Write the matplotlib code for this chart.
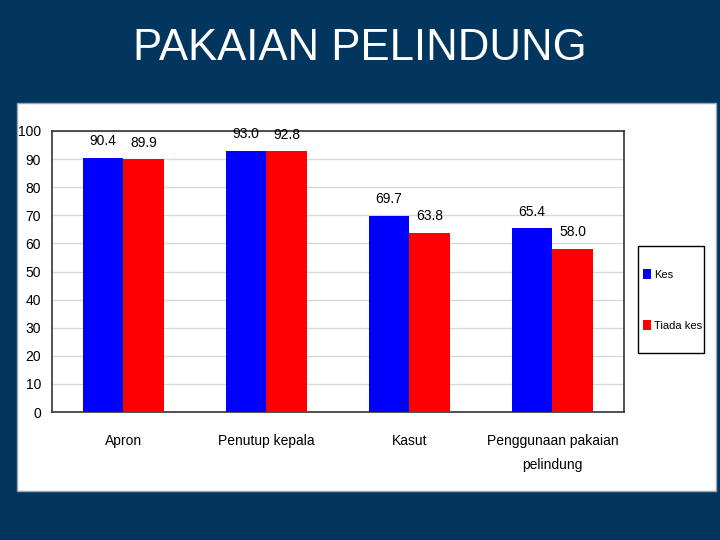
import matplotlib
matplotlib.use("Agg")
import matplotlib.pyplot as plt
from matplotlib.patches import Rectangle
import numpy as np

categories = ["Apron", "Penutup kepala", "Kasut", "Penggunaan pakaian\npelindung"]
kes = [90.4, 93.0, 69.7, 65.4]
tiada_kes = [89.9, 92.8, 63.8, 58.0]
series_names = ["Kes", "Tiada kes"]
yticks = list(range(0, 101, 10))

plt.rcParams['font.family'] = ['Liberation Sans', 'DejaVu Sans']

bg = '#02365F'
fig = plt.figure(figsize=(7.2, 5.4), dpi=100, facecolor=bg)

# white panel
fig.patches.append(Rectangle((17/720, 1-491/540), 699/720, 388/540, transform=fig.transFigure,
                             facecolor='white', edgecolor='#9aa6b2', linewidth=1.0, zorder=-10))

fig.text(0.5, 1-48/540, "PAKAIAN PELINDUNG", color='white', fontsize=31.5,
         family='Liberation Sans', ha='center', va='center')

ax = fig.add_axes([52/720, 1-412/540, 572/720, 281/540])
ax.set_facecolor('white')
x = np.arange(len(categories))
w = 0.285
b1 = ax.bar(x - w/2, kes, w, color='#0000FF', label=series_names[0], zorder=3)
b2 = ax.bar(x + w/2, tiada_kes, w, color='#FF0000', label=series_names[1], zorder=3)
for bars in (b1, b2):
    for r in bars:
        ax.annotate(f"{r.get_height():.1f}", (r.get_x() + r.get_width()/2, r.get_height()),
                    xytext=(0, 7), textcoords='offset points', ha='center', va='bottom',
                    fontsize=10, color='black')

ax.set_xlim(-0.5, len(categories) - 0.5)
ax.set_ylim(0, 100)
ax.set_yticks(yticks)
ax.set_xticks(x)
ax.set_xticklabels(categories, fontsize=10, linespacing=1.9)
ax.tick_params(axis='y', length=0, labelsize=10, pad=8)
ax.tick_params(axis='x', length=0, pad=16)
ax.grid(axis='y', color='#d9d9d9', linewidth=1, zorder=0)
for s in ax.spines.values():
    s.set_color('#333333')
    s.set_linewidth(1.2)

# legend box
fig.patches.append(Rectangle((638/720, 1-353/540), 66/720, 107/540, transform=fig.transFigure,
                             facecolor='white', edgecolor='black', linewidth=1.0, zorder=2))
leg = fig.legend(handles=[b1, b2], labels=series_names, loc='center left',
                 bbox_to_anchor=(640/720, 1-300/540), bbox_transform=fig.transFigure,
                 fontsize=8, frameon=False,
                 labelspacing=3.6, handlelength=0.7, handleheight=1.0, handletextpad=0.25,
                 borderpad=0.3, borderaxespad=0)
leg.set_zorder(5)

fig.savefig("out.png", dpi=100, facecolor=bg)
